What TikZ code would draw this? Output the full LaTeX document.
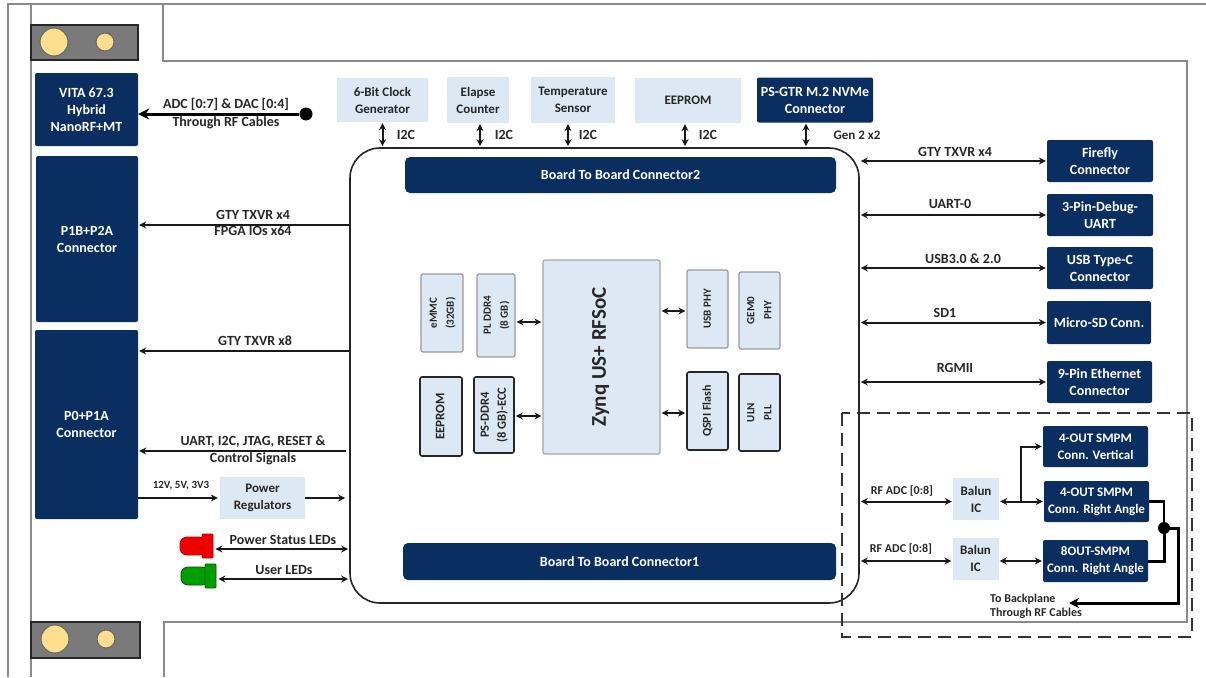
\documentclass[tikz,border=0pt]{standalone}
\usepackage{graphicx}
\usepackage{fontspec}
\setmainfont{Carlito}
\usetikzlibrary{arrows.meta}
\definecolor{navybox}{HTML}{0B2E60}
\definecolor{palebox}{HTML}{DDE8F5}
\definecolor{framegray}{HTML}{8A8A8A}
\definecolor{mountgray}{HTML}{7A7A7A}
\definecolor{mountgold}{HTML}{FBDF8E}
\definecolor{inkgray}{HTML}{262626}
\newcommand{\fsz}[1]{\fontsize{#1}{17}\selectfont\bfseries}
\newcommand{\vtext}[1]{\rotatebox{90}{\begin{tabular}{@{}c@{}}#1\end{tabular}}}

\begin{document}
\begin{tikzpicture}[
  x=1pt, y=-1pt,
  >={Stealth[length=7pt,width=7pt]},
  frame/.style={line width=1.4pt, draw=framegray},
  navy/.style={fill=navybox, text=white, rounded corners=2pt, inner sep=0pt, align=center, font=\fsz{14}},
  pale/.style={fill=palebox, text=inkgray, inner sep=0pt, align=center, font=\fsz{13}},
  chip/.style={fill=palebox, text=inkgray, rounded corners=2pt, inner sep=0pt, align=center, font=\fsz{11}},
  chipgray/.style={chip, draw=gray!80, line width=1.2pt},
  chipdark/.style={chip, draw=black!85, line width=1.6pt},
  lbl/.style={text=inkgray, inner sep=0pt, align=center, font=\fsz{14}},
  small/.style={lbl, font=\fsz{12}},
  mount/.style={fill=mountgray, draw=black!85, line width=1.4pt, inner sep=0pt},
  hole/.style={circle, fill=mountgold, draw=black!60, line width=1pt, inner sep=0pt},
  dot/.style={circle, fill=black, inner sep=0pt},
  link/.style={->, line width=2pt, draw=black!90, shorten >=1pt},
  both/.style={<->, line width=2pt, draw=black!90, shorten >=1pt, shorten <=1pt}
]
  \useasboundingbox (0,0) rectangle (1206,677);

  \draw[frame] (8,677) -- (8,4) -- (1206,4);
  \draw[frame] (31,4) -- (31,677);
  \draw[frame] (163,4) -- (163,61) -- (1187,61) -- (1187,622) -- (164,622) -- (164,677);

  \node[mount, minimum width=107, minimum height=35] (mounttop) at (84.5,42.5) {};
  \node[mount, minimum width=109, minimum height=36] (mountbot) at (85.5,640) {};
  \node[hole, minimum size=28] (holea) at (54,42) {};
  \node[hole, minimum size=18] (holeb) at (105,42) {};
  \node[hole, minimum size=28] (holec) at (55,639) {};
  \node[hole, minimum size=18] (holed) at (106,639) {};

  \node[navy, minimum width=103, minimum height=73] (vita) at (86.5,109.5) {VITA 67.3\\Hybrid\\NanoRF+MT};
  \node[navy, minimum width=102, minimum height=166] (ponea) at (87,239) {P1B+P2A\\Connector};
  \node[navy, minimum width=103, minimum height=189] (pzero) at (86.5,424.5) {P0+P1A\\Connector};

  \node[draw=black!85, line width=1.6pt, rounded corners=30pt, minimum width=509, minimum height=455] (board) at (604.5,375.5) {};
  \node[navy, minimum width=431, minimum height=36, rounded corners=5pt] (btbtwo) at (620.5,175) {Board To Board Connector2};
  \node[navy, minimum width=433, minimum height=37, rounded corners=5pt] (btbone) at (619.5,561.5) {Board To Board Connector1};

  \node[pale, minimum width=91, minimum height=44] (clock) at (382.5,100) {6-Bit Clock\\Generator};
  \node[pale, minimum width=62, minimum height=46] (elapse) at (478,100) {Elapse\\Counter};
  \node[pale, minimum width=84, minimum height=46] (tempsense) at (573,100) {Temperature\\Sensor};
  \node[pale, minimum width=106, minimum height=45] (topeeprom) at (688,100.5) {EEPROM};
  \node[navy, minimum width=116, minimum height=45] (nvme) at (815,100) {PS-GTR M.2 NVMe\\Connector};

  \node[lbl] (itwoca) at (406,135) {I2C};
  \node[lbl] (itwocb) at (504,135) {I2C};
  \node[lbl] (itwocc) at (588,135) {I2C};
  \node[lbl] (itwocd) at (708,135) {I2C};
  \node[lbl, font=\fsz{13}] (gentwo) at (857,135) {Gen 2 x2};

  \foreach \n/\d in {clock/0,elapse/2,tempsense/-5,topeeprom/-3,nvme/-9} {
    \draw[both] ([xshift=\d pt]\n.south) -- ([xshift=\d pt]\n.south |- board.north);
  }

  \node[navy, minimum width=106, minimum height=42] (firefly) at (1100,161) {Firefly\\Connector};
  \node[navy, minimum width=106, minimum height=42] (debuguart) at (1100,215) {3-Pin-Debug-\\UART};
  \node[navy, minimum width=106, minimum height=42] (usbc) at (1100,268) {USB Type-C\\Connector};
  \node[navy, minimum width=104, minimum height=43] (microsd) at (1099,322.5) {Micro-SD Conn.};
  \node[navy, minimum width=105, minimum height=42] (ethernet) at (1099.5,382) {9-Pin Ethernet\\Connector};

  \foreach \n in {firefly,debuguart,usbc,microsd,ethernet} {
    \draw[both] (board.east |- \n.west) -- (\n.west);
  }

  \node[lbl] (lfirefly) at (955,152) {GTY TXVR x4};
  \node[lbl] (luart) at (950,204) {UART-0};
  \node[lbl] (lusb) at (963,259) {USB3.0 \& 2.0};
  \node[lbl] (lsd) at (945,313) {SD1};
  \node[lbl] (lrgmii) at (955,368) {RGMII};

  \node[dot, minimum size=13] (rfstart) at (306,114) {};
  \draw[->, line width=3pt, draw=black, >={Stealth[length=11pt,width=11pt]}] (rfstart) -- (rfstart -| vita.east);
  \node[lbl] (ladc) at (226,104) {ADC [0:7] \& DAC [0:4]};
  \node[lbl] (lcables) at (226,123) {Through RF Cables};

  \draw[link] (board.west |- 0,225) -- (ponea.east |- 0,225);
  \node[lbl] (lgtyfour) at (253,215) {GTY TXVR x4};
  \node[lbl] (lfpga) at (253,231) {FPGA IOs x64};

  \draw[link] (board.west |- 0,351) -- (pzero.east |- 0,351);
  \node[lbl] (lgtyeight) at (255,341) {GTY TXVR x8};

  \draw[link, shorten <=3pt] (board.west |- 0,451) -- (pzero.east |- 0,451);
  \node[lbl] (luartjtag) at (253,442) {UART, I2C, JTAG, RESET \&};
  \node[lbl] (lcontrol) at (253,459) {Control Signals};

  \node[pale, minimum width=85, minimum height=42] (power) at (262.5,498) {Power\\Regulators};
  \draw[link, shorten >=2pt] (pzero.east |- power.west) -- (power.west);
  \draw[link, shorten >=4pt] (power.east) -- (power.east -| board.west);
  \node[lbl, font=\fsz{11}] (lvolts) at (181,486) {12V, 5V, 3V3};

  \draw[fill=red!95!black, draw=red!70!black, line width=0.8pt, rounded corners=7pt] (206,537) -- (180,537) -- (180,555) -- (206,555) -- cycle;
  \node[fill=red!95!black, draw=red!70!black, line width=0.8pt, rounded corners=1pt, minimum width=11, minimum height=24, inner sep=0pt] (redled) at (207.5,546) {};
  \draw[fill=green!62!black, draw=green!35!black, line width=0.8pt, rounded corners=7pt] (209,567) -- (181,567) -- (181,585) -- (209,585) -- cycle;
  \node[fill=green!62!black, draw=green!35!black, line width=0.8pt, rounded corners=1pt, minimum width=11, minimum height=24, inner sep=0pt] (greenled) at (210.5,576) {};

  \draw[both, line width=1.6pt, shorten <=2pt] (redled.east |- 0,549) -- (board.west |- 0,549);
  \draw[both, line width=1.6pt, shorten <=2pt] (greenled.east |- 0,579) -- (board.west |- 0,579);
  \node[lbl] (lpower) at (283,540) {Power Status LEDs};
  \node[lbl] (luser) at (284,570) {User LEDs};

  \node[chip, draw=gray!70, line width=1.2pt, minimum width=117, minimum height=194, font=\fsz{21}] (zynq) at (601.5,357) {\vtext{Zynq US+ RFSoC}};
  \node[chipgray, minimum width=42, minimum height=78] (emmc) at (442,313) {\vtext{eMMC\\(32GB)}};
  \node[chipgray, minimum width=38, minimum height=83] (plddr) at (496,315.5) {\vtext{PL DDR4\\(8 GB)}};
  \node[chipdark, minimum width=42, minimum height=79, font=\fsz{13}] (pleeprom) at (441,416.5) {\vtext{EEPROM}};
  \node[chipdark, minimum width=40, minimum height=76, font=\fsz{12.5}] (psddr) at (494,415) {\vtext{PS-DDR4\\(8 GB)-ECC}};
  \node[chipgray, minimum width=41, minimum height=78] (usbphy) at (707.5,309) {\vtext{USB PHY}};
  \node[chipgray, minimum width=41, minimum height=77] (gemphy) at (759.5,310.5) {\vtext{GEM0\\PHY}};
  \node[chipdark, minimum width=41, minimum height=78, font=\fsz{12}] (qspi) at (707.5,411) {\vtext{QSPI Flash}};
  \node[chipdark, minimum width=41, minimum height=77] (ulnpll) at (759.5,412.5) {\vtext{ULN\\PLL}};

  \draw[both] (plddr.east |- 0,322) -- (zynq.west |- 0,322);
  \draw[both] (psddr.east |- 0,416) -- (zynq.west |- 0,416);
  \draw[both] (usbphy.west |- 0,311) -- (zynq.east |- 0,311);
  \draw[both] (qspi.west |- 0,413) -- (zynq.east |- 0,413);

  \draw[line width=1.6pt, dash pattern=on 13pt off 7pt, draw=black!80] (842,413) rectangle (1192,637);

  \node[pale, minimum width=46, minimum height=42] (balunb) at (975.5,558.5) {Balun\\IC};
  \node[pale, minimum width=46, minimum height=42] (baluna) at (976,499) {Balun\\IC};
  \node[navy, minimum width=105, minimum height=41, font=\fsz{13}] (smpmvert) at (1095.5,446.5) {4-OUT SMPM\\Conn. Vertical};
  \node[navy, minimum width=105, minimum height=41, font=\fsz{13}] (smpmright) at (1096.5,501.5) {4-OUT SMPM\\Conn. Right Angle};
  \node[navy, minimum width=105, minimum height=42, font=\fsz{13}] (smpmeight) at (1095.5,561) {8OUT-SMPM\\Conn. Right Angle};

  \draw[both] (board.east |- smpmright.west) -- (baluna.west |- smpmright.west);
  \draw[both] (board.east |- smpmeight.west) -- (balunb.west |- smpmeight.west);
  \node[small] (lrfa) at (902,491) {RF ADC [0:8]};
  \node[small] (lrfb) at (901,549) {RF ADC [0:8]};

  \draw[both] (baluna.east |- smpmright.west) -- (smpmright.west);
  \draw[both] (balunb.east |- smpmeight.west) -- (smpmeight.west);
  \coordinate (split) at (1021,501.5);
  \draw[link] (split) |- (smpmvert.west);

  \node[dot, minimum size=12] (join) at (1164,528) {};
  \draw[line width=2.4pt] (smpmright.east) -| (join.center);
  \draw[line width=3pt] (smpmeight.east) -| (join.center);
  \coordinate (bpturn) at (1178,603);
  \coordinate (bpend) at (1069,603);
  \draw[->, line width=3pt, >={Stealth[length=10pt,width=10pt]}] (join.center) -| (bpturn) -- (bpend);
  \node[small, anchor=west] (lbackplane) at (990,599) {To Backplane};
  \node[small, anchor=west] (lthrough) at (990,613) {Through RF Cables};
\end{tikzpicture}
\end{document}
